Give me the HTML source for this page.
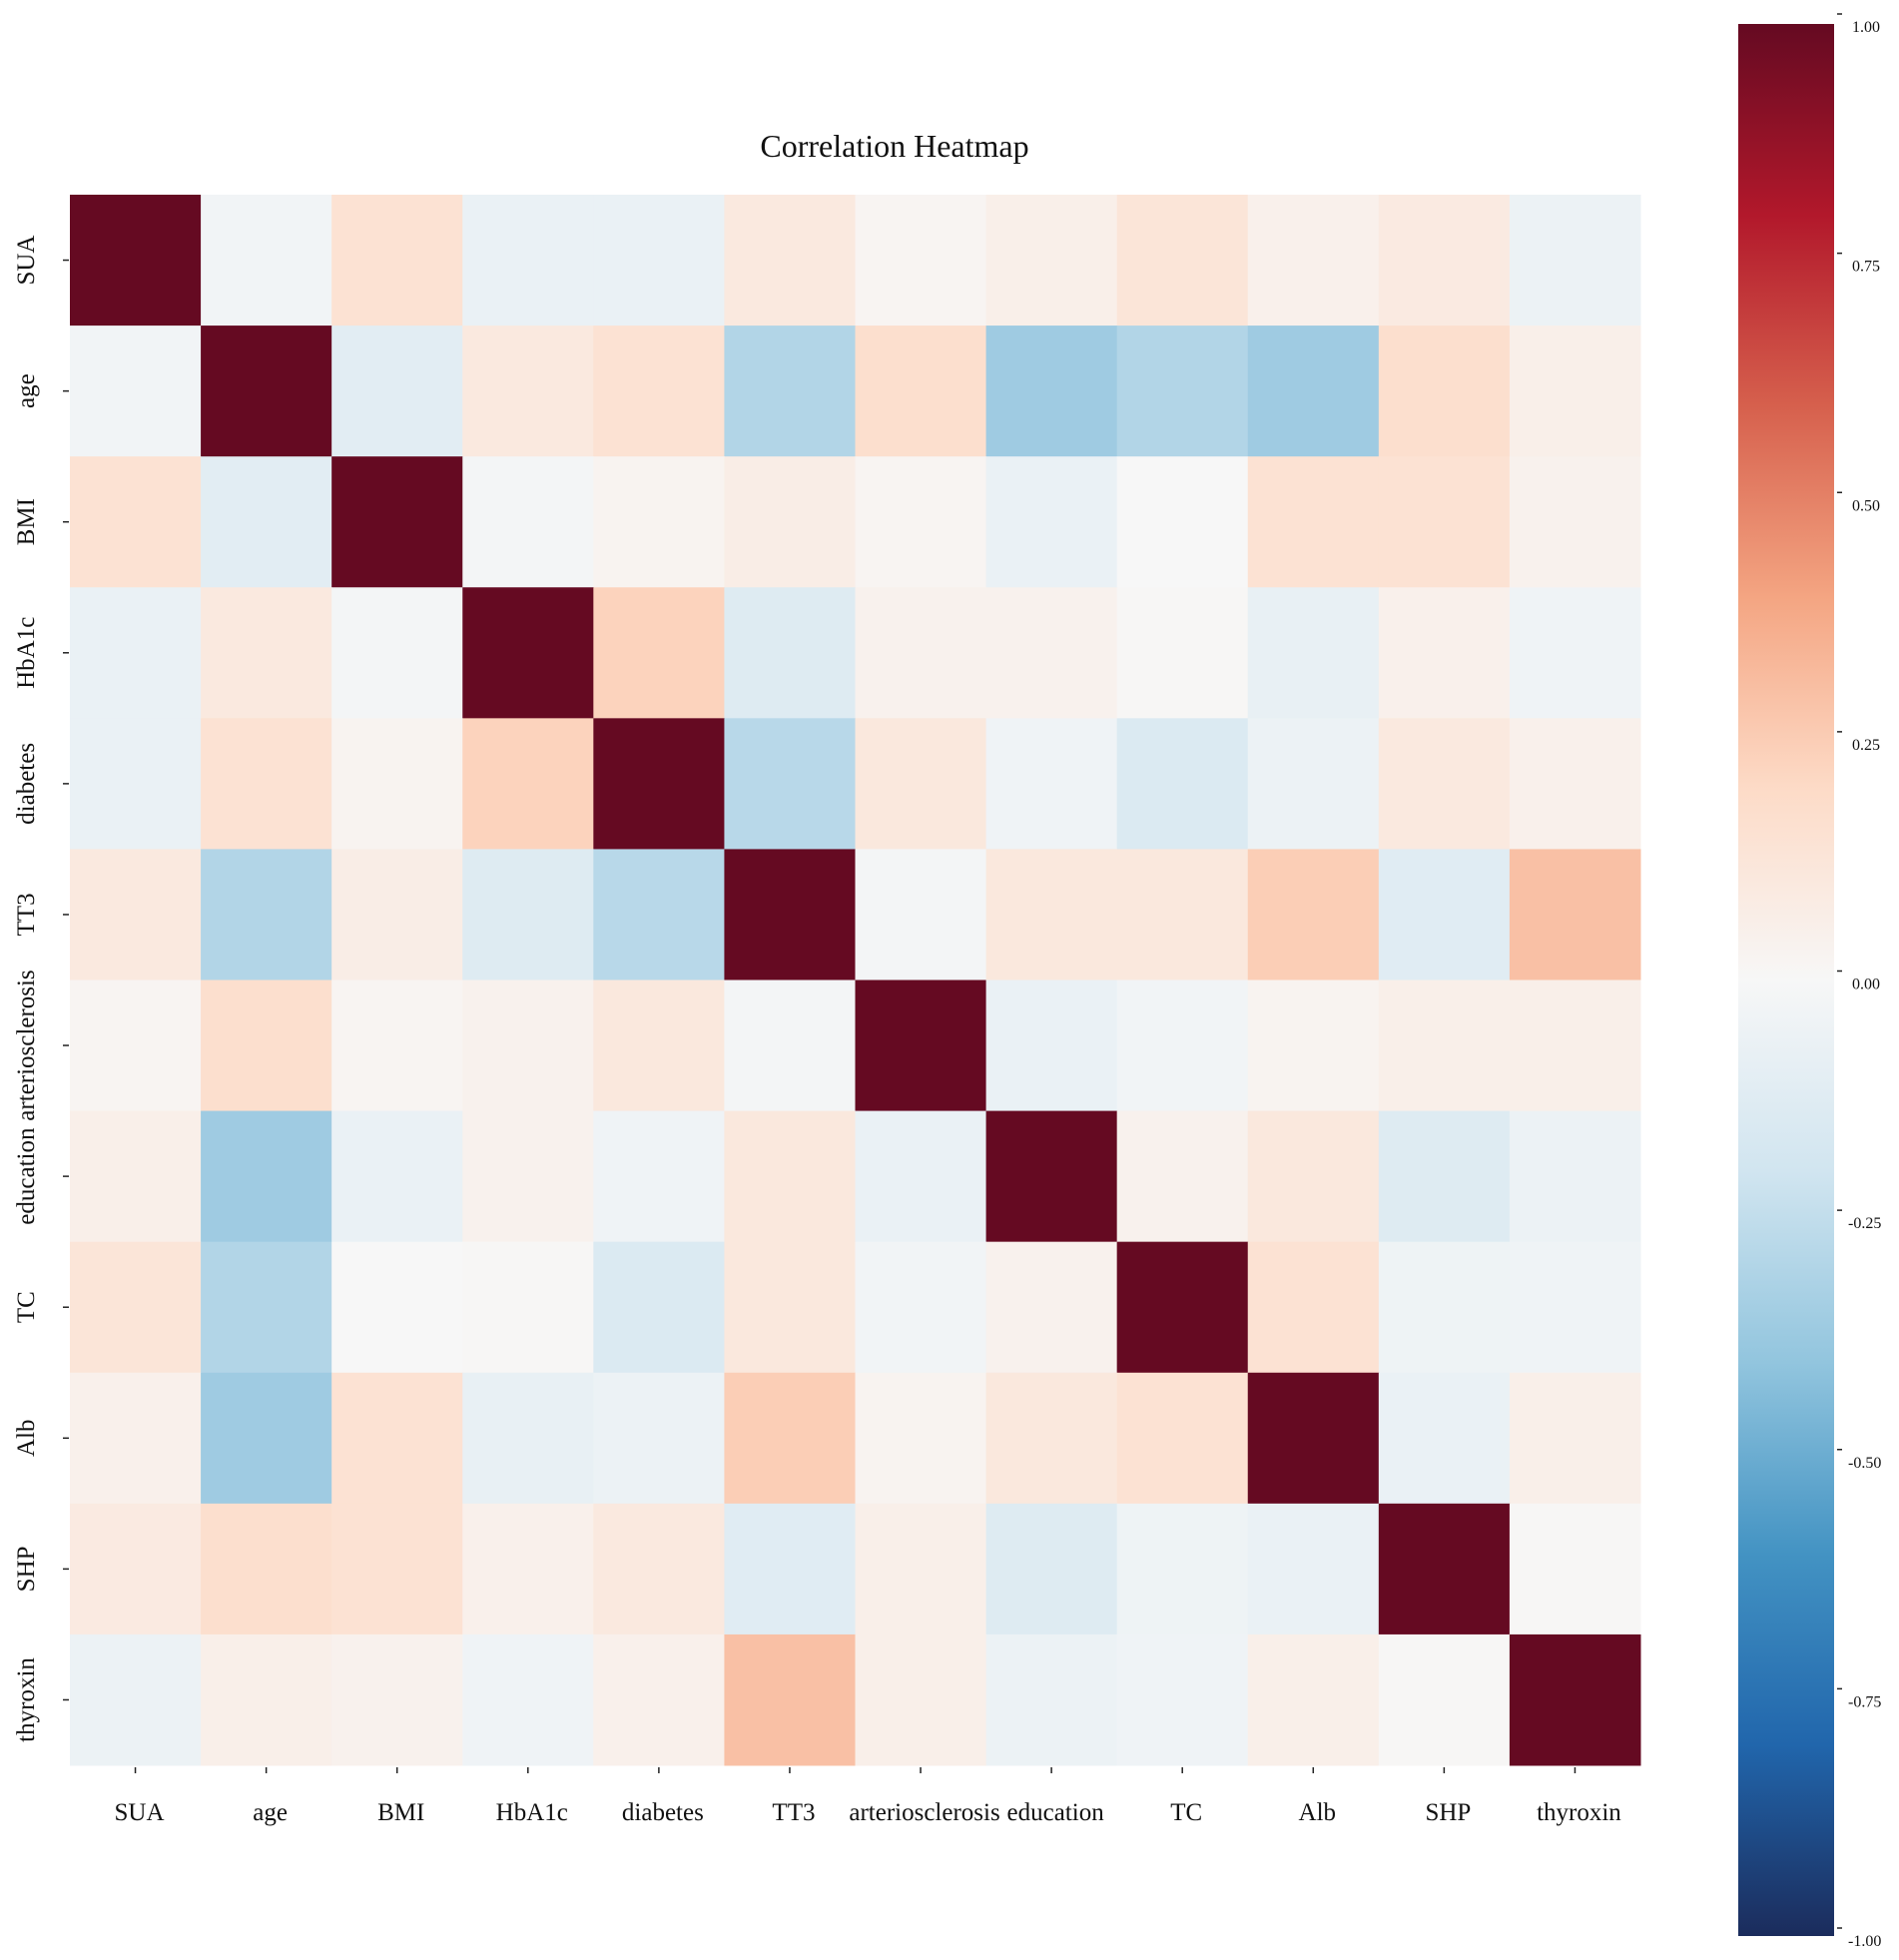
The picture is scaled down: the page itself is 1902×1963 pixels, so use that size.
<!DOCTYPE html>
<html><head><meta charset="utf-8"><style>
html,body{margin:0;padding:0;background:#fff;}
svg{display:block;font-family:"Liberation Serif",serif;}
</style></head><body>
<svg id="chart" width="1902" height="1963" viewBox="0 0 1902 1963">
<defs>
<linearGradient id="cbgrad" x1="0" y1="1" x2="0" y2="0">
<stop offset="0" stop-color="#1b2c5c"/><stop offset="0.1" stop-color="#2166ac"/><stop offset="0.2" stop-color="#4393c3"/><stop offset="0.3" stop-color="#92c5de"/><stop offset="0.4" stop-color="#d1e5f0"/><stop offset="0.5" stop-color="#f7f7f7"/><stop offset="0.6" stop-color="#fddbc7"/><stop offset="0.7" stop-color="#f4a582"/><stop offset="0.8" stop-color="#d6604d"/><stop offset="0.9" stop-color="#b2182b"/><stop offset="1" stop-color="#650a22"/>
</linearGradient>
</defs>
<text x="896" y="157" text-anchor="middle" font-size="32" fill="#111">Correlation Heatmap</text>
<g id="cells"></g>
<g id="axes"></g>
<rect x="1741" y="24" width="96" height="1915" fill="url(#cbgrad)"/>
<g id="cbticks"></g>
</svg>
<script>
const labels = ["SUA","age","BMI","HbA1c","diabetes","TT3","arteriosclerosis","education","TC","Alb","SHP","thyroxin"];
const row0 = [1,-0.03,0.15,-0.07,-0.07,0.10,0.02,0.06,0.13,0.05,0.09,-0.06];
const row1 = [-0.03,1,-0.11,0.10,0.15,-0.30,0.17,-0.36,-0.30,-0.36,0.17,0.06];
const row2 = [0.15,-0.11,1,-0.02,0.03,0.07,0.02,-0.07,0.00,0.15,0.15,0.04];
const row3 = [-0.07,0.10,-0.02,1,0.23,-0.13,0.04,0.04,0.01,-0.08,0.05,-0.04];
const row4 = [-0.07,0.15,0.03,0.23,1,-0.28,0.11,-0.04,-0.15,-0.06,0.10,0.05];
const row5 = [0.10,-0.30,0.07,-0.13,-0.28,1,-0.02,0.11,0.11,0.25,-0.12,0.30];
const row6 = [0.02,0.17,0.02,0.04,0.11,-0.02,1,-0.07,-0.03,0.03,0.06,0.06];
const row7 = [0.06,-0.36,-0.07,0.04,-0.04,0.11,-0.07,1,0.04,0.11,-0.13,-0.06];
const row8 = [0.13,-0.30,0.00,0.01,-0.15,0.11,-0.03,0.04,1,0.15,-0.05,-0.04];
const row9 = [0.05,-0.36,0.15,-0.08,-0.06,0.25,0.03,0.11,0.15,1,-0.07,0.06];
const row10 = [0.09,0.17,0.15,0.05,0.10,-0.12,0.06,-0.13,-0.05,-0.07,1,0.01];
const row11 = [-0.06,0.06,0.04,-0.04,0.05,0.30,0.06,-0.06,-0.04,0.06,0.01,1];
const matrix = [row0,row1,row2,row3,row4,row5,row6,row7,row8,row9,row10,row11];
const cbTicks = [1.00,0.75,0.50,0.25,0.00,-0.25,-0.50,-0.75,-1.00];

const NS = "http://www.w3.org/2000/svg";
const X0 = 70, Y0 = 195, SIZE = 1573;
const n = labels.length, cell = SIZE / n;
const xPos = i => X0 + i * cell;
const yPos = i => Y0 + i * cell;
const stops = ["#053061","#2166ac","#4393c3","#92c5de","#d1e5f0","#f7f7f7","#fddbc7","#f4a582","#d6604d","#b2182b","#650a22"];
function hex(h){return [1,3,5].map(k=>parseInt(h.substr(k,2),16));}
function color(v){
  let t = (Math.max(-1,Math.min(1,v)) + 1) / 2 * 10;
  let i = Math.min(9, Math.floor(t)), f = t - i;
  const a = hex(stops[i]), b = hex(stops[i+1]);
  return "rgb(" + a.map((c,k)=>Math.round(c + (b[k]-c)*f)).join(",") + ")";
}
const cells = document.getElementById("cells");
matrix.forEach((row, r) => row.forEach((v, c) => {
  const rect = document.createElementNS(NS, "rect");
  rect.setAttribute("x", xPos(c)); rect.setAttribute("y", yPos(r));
  rect.setAttribute("width", cell + 0.5); rect.setAttribute("height", cell + 0.5);
  rect.setAttribute("fill", color(v));
  
  
  cells.appendChild(rect);
}));
const axes = document.getElementById("axes");
labels.forEach((lab, i) => {
  const cx = xPos(i) + cell / 2, cy = yPos(i) + cell / 2;
  const t1 = document.createElementNS(NS, "line");
  t1.setAttribute("x1", cx); t1.setAttribute("x2", cx); t1.setAttribute("y1", Y0 + SIZE + 2); t1.setAttribute("y2", Y0 + SIZE + 8);
  t1.setAttribute("stroke", "#222"); t1.setAttribute("stroke-width", "1.5");
  
  
  axes.appendChild(t1);
  const tx = document.createElementNS(NS, "text");
  tx.setAttribute("x", cx + 4); tx.setAttribute("y", 1823); tx.setAttribute("text-anchor", "middle");
  tx.setAttribute("font-size", "25"); tx.setAttribute("fill", "#111");
  tx.textContent = lab;
  
  
  axes.appendChild(tx);
  const t2 = document.createElementNS(NS, "line");
  t2.setAttribute("x1", 63); t2.setAttribute("x2", 69); t2.setAttribute("y1", cy); t2.setAttribute("y2", cy);
  t2.setAttribute("stroke", "#222"); t2.setAttribute("stroke-width", "1.5");
  
  
  axes.appendChild(t2);
  const ty = document.createElementNS(NS, "text");
  ty.setAttribute("x", 0); ty.setAttribute("y", 0); ty.setAttribute("text-anchor", "middle");
  ty.setAttribute("transform", "translate(34," + cy + ") rotate(-90)");
  ty.setAttribute("font-size", "25"); ty.setAttribute("fill", "#111");
  ty.textContent = lab;
  
  
  axes.appendChild(ty);
});
const cbg = document.getElementById("cbticks");
const cbY = v => 14 + (1 - v) / 2 * (1931 - 14);
cbTicks.forEach(v => {
  const y = cbY(v);
  const l = document.createElementNS(NS, "line");
  l.setAttribute("x1", 1840); l.setAttribute("x2", 1845); l.setAttribute("y1", y); l.setAttribute("y2", y);
  l.setAttribute("stroke", "#222"); l.setAttribute("stroke-width", "1.5");
  
  
  cbg.appendChild(l);
  const t = document.createElementNS(NS, "text");
  t.setAttribute("x", v < 0 ? 1851 : 1855); t.setAttribute("y", y + 18);
  t.setAttribute("font-size", "16"); t.setAttribute("fill", "#111");
  t.textContent = v.toFixed(2);
  
  
  cbg.appendChild(t);
});
</script>
</body></html>
